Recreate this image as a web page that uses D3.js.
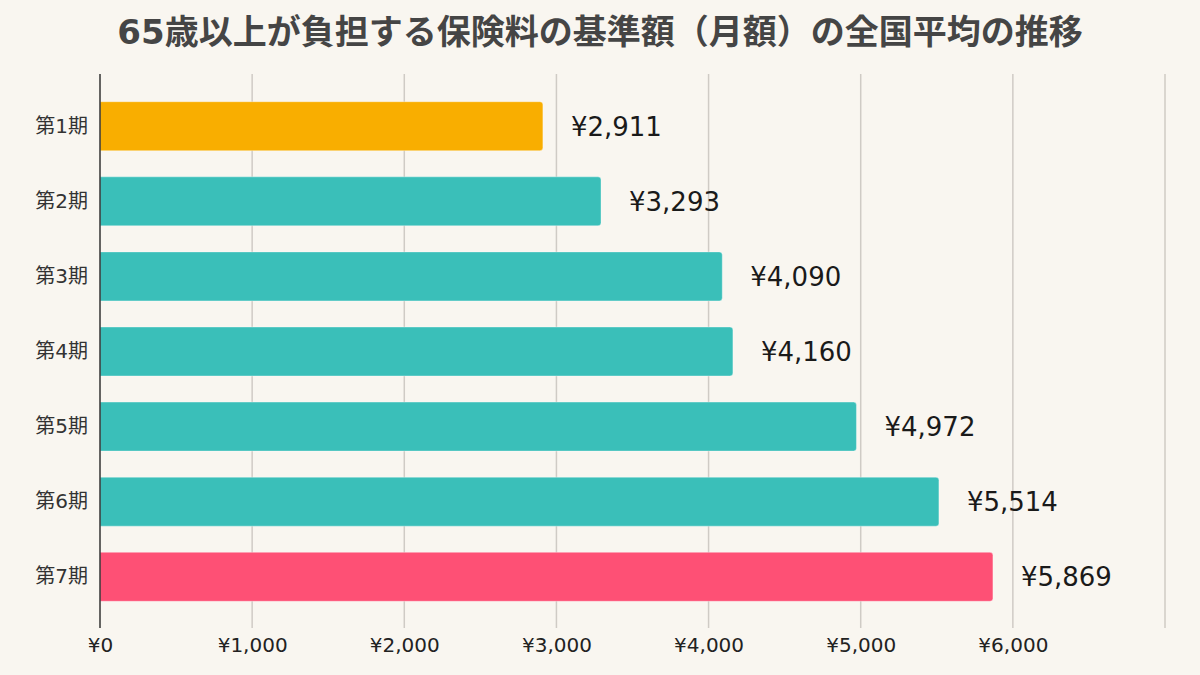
<!DOCTYPE html>
<html>
<head>
<meta charset="utf-8">
<script src="https://cdn.jsdelivr.net/npm/d3@7"></script>
<style>
  html, body { margin: 0; padding: 0; background: #F9F6F0; }
  svg { display: block; }
  text { font-family: "DejaVu Sans", "Noto Sans CJK JP", sans-serif; }
</style>
</head>
<body>
<svg id="chart" width="1200" height="675"></svg>
<script>
const title = "65歳以上が負担する保険料の基準額（月額）の全国平均の推移";
const categories = ["第1期", "第2期", "第3期", "第4期", "第5期", "第6期", "第7期"];
const values = [2911, 3293, 4090, 4160, 4972, 5514, 5869];
const barColors = ["#F9AE00", "#3ABFB9", "#3ABFB9", "#3ABFB9", "#3ABFB9", "#3ABFB9", "#FE5075"];
const tickValues = [0, 1000, 2000, 3000, 4000, 5000, 6000, 7000];
const tickLabels = ["¥0", "¥1,000", "¥2,000", "¥3,000", "¥4,000", "¥5,000", "¥6,000", ""];

(function () {
const svg = d3.select("#chart");
const W = 1200, H = 675;
svg.append("rect").attr("width", W).attr("height", H).attr("fill", "#F9F6F0");

const pLeft = 100, pRight = 1165, pTop = 74, pBottom = 628;

const x = d3.scaleLinear().domain([0, 7000]).range([pLeft, pRight]);
const y = d3.scaleBand().domain(categories).range([pTop + 1, pBottom])
  .paddingInner(0.348).paddingOuter(0.356);

// Title
svg.append("text")
  .attr("x", 600).attr("y", 43.5)
  .attr("text-anchor", "middle")
  .attr("font-size", 34).attr("font-weight", "bold")
  .attr("fill", "#454545")
  .text(title);

// Gridlines
svg.append("g").selectAll("line").data(tickValues.filter(d => d > 0)).join("line")
  .attr("x1", d => x(d)).attr("x2", d => x(d))
  .attr("y1", pTop).attr("y2", pBottom)
  .attr("stroke", "#CFCBC5").attr("stroke-width", 1.5);

// X axis tick labels
const xAxis = d3.axisBottom(x).tickValues(tickValues)
  .tickFormat((d, i) => tickLabels[i]).tickSize(0).tickPadding(0);
const gx = svg.append("g").attr("transform", `translate(0,${pBottom})`).call(xAxis);
gx.select(".domain").remove();
gx.selectAll("text")
  .attr("dy", null).attr("y", 24)
  .attr("font-size", 20).attr("fill", "#222")
  .style("font-family", '"DejaVu Sans", "Noto Sans CJK JP", sans-serif');

// Bars
const r = 3;
function barPath(x0, y0, w, h) {
  return `M${x0},${y0} H${x0 + w - r} Q${x0 + w},${y0} ${x0 + w},${y0 + r} V${y0 + h - r} Q${x0 + w},${y0 + h} ${x0 + w - r},${y0 + h} H${x0} Z`;
}
svg.append("g").selectAll("path").data(values).join("path")
  .attr("d", (d, i) => barPath(x(0), y(categories[i]), x(d) - x(0), y.bandwidth()))
  .attr("fill", (d, i) => barColors[i])
  .attr("stroke", "rgba(255,255,255,0.35)").attr("stroke-width", 1);

// Value labels
svg.append("g").selectAll("text").data(values).join("text")
  .attr("x", d => x(d) + 28)
  .attr("y", (d, i) => y(categories[i]) + y.bandwidth() / 2)
  .attr("dy", "0.36em")
  .attr("font-size", 26).attr("fill", "#1a1a1a")
  .text(d => "¥" + d3.format(",")(d));

// Y axis labels
const yAxis = d3.axisLeft(y).tickSize(0).tickPadding(12);
const gy = svg.append("g").attr("transform", `translate(${pLeft},0)`).call(yAxis);
gy.select(".domain").remove();
gy.selectAll("text")
  .attr("font-size", 20).attr("fill", "#333")
  .style("font-family", '"DejaVu Sans", "Noto Sans CJK JP", sans-serif');

// Y axis line
svg.append("line")
  .attr("x1", pLeft).attr("x2", pLeft)
  .attr("y1", pTop).attr("y2", pBottom)
  .attr("stroke", "#333").attr("stroke-width", 1.5);
})();
</script>
</body>
</html>
